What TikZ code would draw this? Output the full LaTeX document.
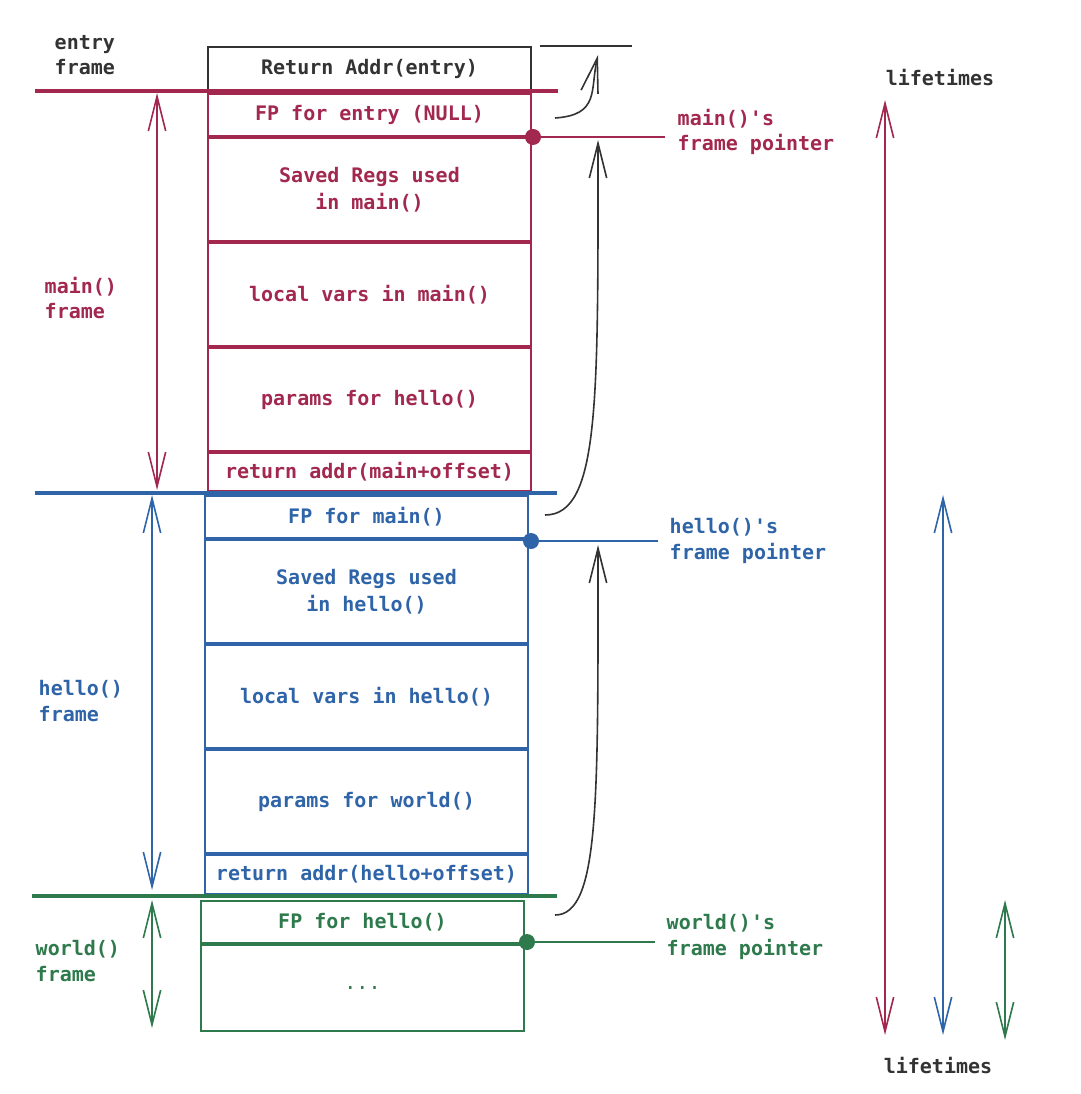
\documentclass[tikz,border=0pt]{standalone}
\usepackage{fontspec}
\setmainfont{DejaVu Sans Mono}
\usetikzlibrary{arrows.meta}
\definecolor{mr}{HTML}{A3284F}
\definecolor{bl}{HTML}{2F65A8}
\definecolor{gr}{HTML}{2E7A4C}
\definecolor{dk}{HTML}{333333}
\begin{document}
\begin{tikzpicture}[x=0.75pt,y=-0.75pt,
  font=\fontsize{15}{20}\selectfont\bfseries,
  box/.style={draw=#1,text=#1,line width=1.5pt,minimum width=0.75*323pt,inner sep=0pt,anchor=north west},
  lbl/.style={text=#1,align=left,anchor=west,font=\fontsize{15}{19}\selectfont\bfseries},
  sep/.style={draw=#1,line width=2.4pt},
  tip/.style={-{Straight Barb[length=26pt,width=13pt,line width=1.2pt]}},
  dtip/.style={{Straight Barb[length=26pt,width=13pt,line width=1.2pt]}-{Straight Barb[length=26pt,width=13pt,line width=1.2pt]}},
  dot/.style={circle,fill=#1,inner sep=0pt,minimum size=12pt}]
\useasboundingbox[fill=white] (0,0) rectangle (1080,1094);
% entry
\node[box=dk,minimum height=0.75*44pt] (ra) at (207,46) {Return Addr(entry)};
\coordinate (tl1) at (540,46); \coordinate (tl2) at (632,46);
\draw[dk,line width=1.2pt] (tl1) -- (tl2);
\node[lbl=dk] (ef) at (50,55) {entry\\frame};
\draw[sep=mr] (35,91) -- (558,91);
% main
\node[box=mr,minimum height=0.75*42pt] (fpe) at (207,93) {FP for entry (NULL)};
\node[box=mr,minimum height=0.75*103pt,align=center] (srm) at (207,137) {Saved Regs used\\in main()};
\node[box=mr,minimum height=0.75*103pt] (lvm) at (207,242) {local vars in main()};
\node[box=mr,minimum height=0.75*103pt] (pfh) at (207,347) {params for hello()};
\node[box=mr,minimum height=0.75*38pt] (ram) at (207,452) {return addr(main+offset)};
\node[lbl=mr] (mf) at (40,298) {main()\\frame};
\draw[dtip,mr,line width=1.2pt] (157,93) -- (157,490);
\node[dot=mr] (d1) at (533,137) {};
\coordinate (e1) at (665,137);
\draw[mr,line width=1.2pt] (d1) -- (e1);
\node[lbl=mr] (mfp) at (673,132) {main()\textquotesingle s\\frame pointer};
\draw[sep=bl] (35,493) -- (557,493);
% hello
\node[box=bl,minimum height=0.75*42pt] (fpm) at (204,495) {FP for main()};
\node[box=bl,minimum height=0.75*103pt,align=center] (srh) at (204,539) {Saved Regs used\\in hello()};
\node[box=bl,minimum height=0.75*103pt] (lvh) at (204,644) {local vars in hello()};
\node[box=bl,minimum height=0.75*103pt] (pfw) at (204,749) {params for world()};
\node[box=bl,minimum height=0.75*39pt] (rah) at (204,854) {return addr(hello+offset)};
\node[lbl=bl] (hf) at (34,701) {hello()\\frame};
\draw[dtip,bl,line width=1.2pt] (152,495) -- (152,890);
\node[dot=bl] (d2) at (531,541) {};
\coordinate (e2) at (658,541);
\draw[bl,line width=1.2pt] (d2) -- (e2);
\node[lbl=bl] (hfp) at (665,541) {hello()\textquotesingle s\\frame pointer};
\draw[sep=gr] (32,896) -- (557,896);
% world
\node[box=gr,minimum height=0.75*42pt] (fph) at (200,900) {FP for hello()};
\node[box=gr,minimum height=0.75*86pt,font=\fontsize{15}{20}\selectfont] (dots) at (200,944) {...};
\node[lbl=gr] (wf) at (31,961) {world()\\frame};
\draw[dtip,gr,line width=1.2pt] (152,900) -- (152,1028);
\node[dot=gr] (d3) at (527,942) {};
\coordinate (e3) at (655,942);
\draw[gr,line width=1.2pt] (d3) -- (e3);
\node[lbl=gr] (wfp) at (662,937) {world()\textquotesingle s\\frame pointer};
% curved black arrows
\coordinate (s1) at (555,118); \coordinate (t1) at (598,55);
\draw[tip,dk,line width=1.2pt] (s1) .. controls (600,115) and (590,90) .. (t1);
\coordinate (s2) at (545,515); \coordinate (t2) at (598,140);
\draw[tip,dk,line width=1.2pt] (s2) .. controls (600,515) and (598,400) .. (t2);
\coordinate (s3) at (555,915); \coordinate (t3) at (598,545);
\draw[tip,dk,line width=1.2pt] (s3) .. controls (600,915) and (598,800) .. (t3);
% lifetimes
\node[text=dk] (lt1) at (940,78) {lifetimes};
\node[text=dk] (lt2) at (938,1065) {lifetimes};
\draw[dtip,mr,line width=1.2pt] (885,100) -- (885,1035);
\draw[dtip,bl,line width=1.2pt] (943,495) -- (943,1035);
\draw[dtip,gr,line width=1.2pt] (1005,900) -- (1005,1040);
\end{tikzpicture}
\end{document}
